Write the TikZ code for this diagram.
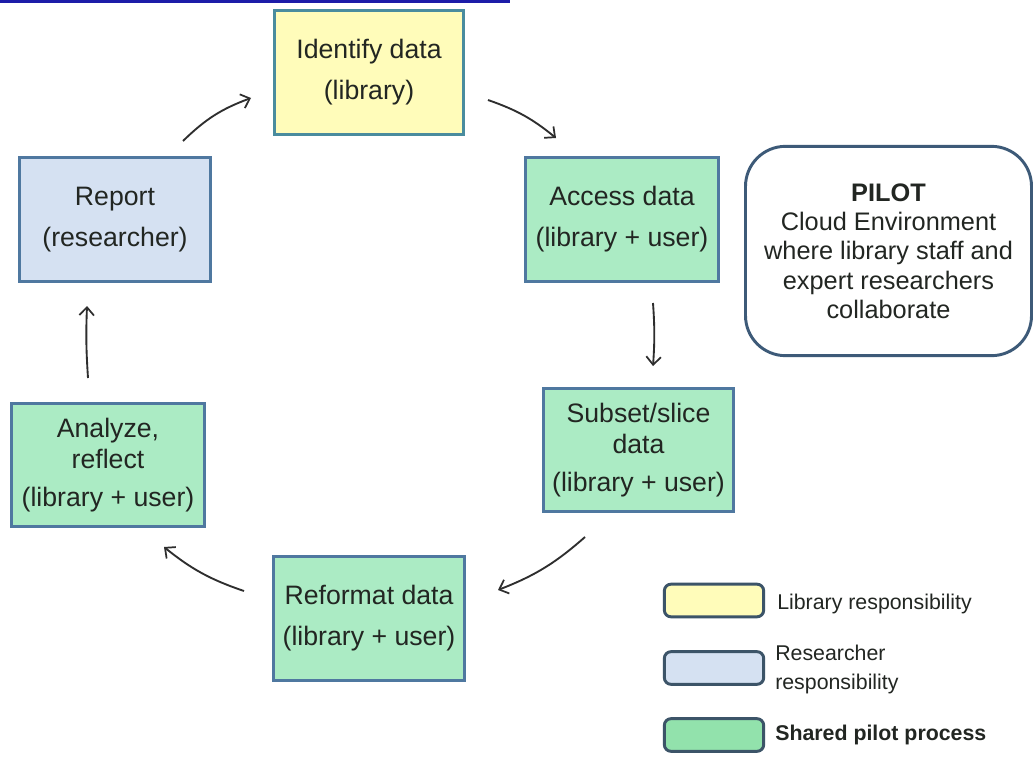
\documentclass[tikz,border=0pt]{standalone}
\usepackage{fontspec}
\setmainfont{Liberation Sans}
\usetikzlibrary{arrows.meta}

\definecolor{inkdark}{HTML}{222622}
\definecolor{edgeblue}{HTML}{4F78A0}
\definecolor{edgeteal}{HTML}{4A8C9E}
\definecolor{fillyellow}{HTML}{FFFCBA}
\definecolor{fillblue}{HTML}{D5E1F2}
\definecolor{fillgreen}{HTML}{ABEBC4}
\definecolor{keygreen}{HTML}{92E2AC}
\definecolor{keyedge}{HTML}{3C5468}
\definecolor{pilotedge}{HTML}{3D5A78}
\definecolor{arrowink}{HTML}{2E2E2E}
\definecolor{linkblue}{HTML}{1C1CA8}

\tikzset{
  stagebox/.style={draw=edgeblue, line width=2.4pt, rectangle, align=center,
    text=inkdark, font=\fontsize{20}{30.75}\selectfont, inner sep=0pt},
  keybox/.style={draw=keyedge, line width=2.2pt, rounded corners=5pt,
    minimum width=74.5pt, minimum height=24.5pt, inner sep=0pt},
  keytext/.style={anchor=west, align=left, text=inkdark,
    font=\fontsize{16}{21.75}\selectfont, inner sep=0pt},
  flow/.style={draw=arrowink, line width=1.4pt,
    -{Straight Barb[length=6pt,width=11pt,line width=1.3pt]}},
}

\begin{document}
\begin{tikzpicture}[x=0.75pt,y=-0.75pt]
\useasboundingbox[fill=white] (0,0) rectangle (1034,756);

% underline of the link running along the top edge
\draw[linkblue, line width=1.6pt] (0,1.5) -- (510,1.5);

% process stages
\node[stagebox, fill=fillyellow, draw=edgeteal, minimum width=142pt, minimum height=92.5pt]
  (identify) at (369,72.5) {Identify data\\(library)};
\node[stagebox, fill=fillgreen, minimum width=145pt, minimum height=93pt]
  (access) at (622,219.5) {Access data\\(library + user)};
\node[stagebox, fill=fillblue, minimum width=143.5pt, minimum height=93pt]
  (report) at (115,219.5) {Report\\(researcher)};
\node[stagebox, fill=fillgreen, minimum width=142.75pt, minimum height=92.5pt,
  font=\fontsize{20}{23.25}\selectfont]
  (subset) at (638.5,450) {Subset/slice\\data\\[5.25pt](library + user)};
\node[stagebox, fill=fillgreen, minimum width=144.25pt, minimum height=91.75pt,
  font=\fontsize{20}{23.25}\selectfont]
  (analyze) at (108,465) {Analyze,\\reflect\\[5.25pt](library + user)};
\node[stagebox, fill=fillgreen, minimum width=143.5pt, minimum height=93pt]
  (reformat) at (369,618.5) {Reformat data\\(library + user)};

% pilot environment note
\node[draw=pilotedge, line width=2.2pt, rounded corners=30pt, fill=white,
  minimum width=214.5pt, minimum height=157pt, align=center, text=inkdark,
  font=\fontsize{19}{22}\selectfont, inner sep=0pt]
  (pilot) at (888.5,251)
  {\textbf{PILOT}\\Cloud Environment\\where library staff and\\expert researchers\\collaborate};

% arrow end points between the stages
\coordinate (r2iS) at (183,141);  \coordinate (r2iE) at (251,98);
\coordinate (i2aS) at (488,100);  \coordinate (i2aE) at (556,138);
\coordinate (a2sS) at (653,303);  \coordinate (a2sE) at (653,366);
\coordinate (s2fS) at (585,537);  \coordinate (s2fE) at (498,590);
\coordinate (f2nS) at (244,591);  \coordinate (f2nE) at (164,547);
\coordinate (n2rS) at (88,378);   \coordinate (n2rE) at (87,306);

\draw[flow] (r2iS) to[bend left=12] (r2iE);
\draw[flow] (i2aS) to[bend left=10] (i2aE);
\draw[flow] (a2sS) to[bend left=4] (a2sE);
\draw[flow] (s2fS) to[bend left=10] (s2fE);
\draw[flow] (f2nS) to[bend left=10] (f2nE);
\draw[flow] (n2rS) to[bend left=3] (n2rE);

% legend
\node[keybox, fill=fillyellow] (keylib) at (714,600.5) {};
\node[keybox, fill=fillblue] (keyres) at (714,668) {};
\node[keybox, fill=keygreen] (keyshr) at (714,735) {};
\node[keytext] (keylibtxt) at (777,604) {Library responsibility};
\node[keytext] (keyrestxt) at (775,669.5) {Researcher\\responsibility};
\node[keytext, font=\fontsize{16}{21.75}\selectfont\bfseries] (keyshrtxt) at (775,735) {Shared pilot process};
\end{tikzpicture}
\end{document}
